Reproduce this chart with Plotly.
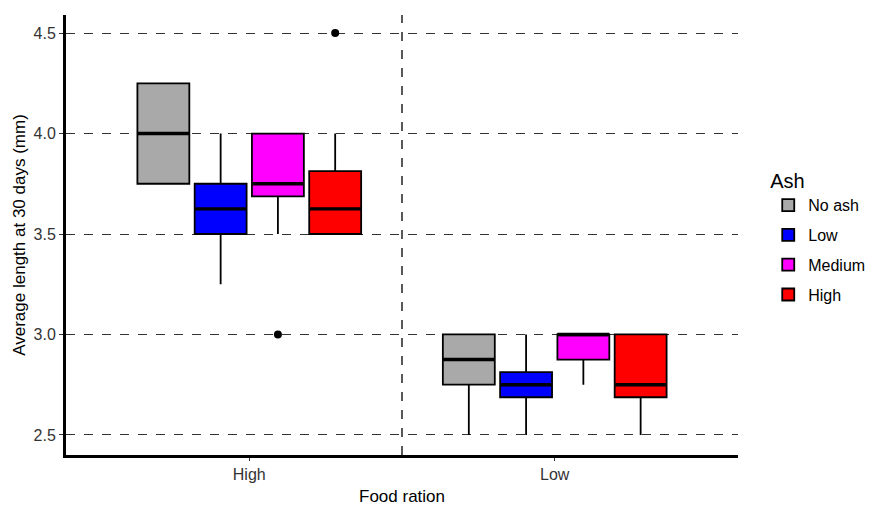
import plotly.graph_objects as go

rations = ["High", "Low"]
ash_levels = ["No ash", "Low", "Medium", "High"]
colors = ["#A9A9A9", "#0000FF", "#FF00FF", "#FF0000"]

# stats per ash level, ordered by ration [High, Low]
q1 = {"No ash": [3.75, 2.75], "Low": [3.5, 2.6875], "Medium": [3.6875, 2.875], "High": [3.5, 2.6875]}
med = {"No ash": [4.0, 2.875], "Low": [3.625, 2.75], "Medium": [3.75, 3.0], "High": [3.625, 2.75]}
q3 = {"No ash": [4.25, 3.0], "Low": [3.75, 2.8125], "Medium": [4.0, 3.0], "High": [3.8125, 3.0]}
lo = {"No ash": [3.75, 2.5], "Low": [3.25, 2.5], "Medium": [3.5, 2.75], "High": [3.5, 2.5]}
hi = {"No ash": [4.25, 3.0], "Low": [4.0, 3.0], "Medium": [4.0, 3.0], "High": [4.0, 3.0]}
outliers = {"Medium": (["High"], [3.0]), "High": (["High"], [4.5])}

y_ticks = [2.5, 3.0, 3.5, 4.0, 4.5]

dodge = 0.1875
bw = 0.17
n = len(ash_levels)

fig = go.Figure()
for i, a in enumerate(ash_levels):
    off = (i - (n - 1) / 2) * dodge
    xs = [r_i + 1 + off for r_i in range(len(rations))]
    fig.add_trace(go.Box(
        x=xs, q1=q1[a], median=med[a], q3=q3[a], lowerfence=lo[a], upperfence=hi[a],
        name=a, fillcolor=colors[i], line=dict(color="black", width=1.8),
        width=bw, whiskerwidth=0, boxpoints=False, hoverinfo="skip",
        legendgroup=a, showlegend=True, opacity=1,
    ))
    mx, my = [], []
    for j, x in enumerate(xs):
        mx += [x - bw / 2, x + bw / 2, None]
        my += [med[a][j], med[a][j], None]
    fig.add_trace(go.Scatter(x=mx, y=my, mode="lines", line=dict(color="black", width=3.4),
                             showlegend=False, hoverinfo="skip", legendgroup=a))
    if a in outliers:
        cats, vals = outliers[a]
        ox = [rations.index(c) + 1 + off for c in cats]
        fig.add_trace(go.Scatter(x=ox, y=vals, mode="markers", marker=dict(color="black", size=8),
                                 showlegend=False, hoverinfo="skip", legendgroup=a))

fig.add_vline(x=1.5, line=dict(color="black", width=1.3, dash="dash"))

fig.update_layout(
    width=871, height=506,
    margin=dict(l=66, r=133, t=15, b=51, autoexpand=False),
    plot_bgcolor="white", paper_bgcolor="white",
    font=dict(family="Liberation Sans, Arial, sans-serif", color="black", size=16),
    legend=dict(title=dict(text="Ash", font=dict(size=20)), font=dict(size=16),
                x=1.045, xanchor="left", y=0.495, yanchor="middle", tracegroupgap=6,
                bgcolor="rgba(0,0,0,0)"),
    showlegend=True,
)
fig.update_xaxes(
    range=[0.4, 2.6], tickvals=[1, 2], ticktext=rations,
    showline=True, linecolor="black", linewidth=3, showgrid=False, zeroline=False,
    ticks="outside", ticklen=3, tickcolor="#333", tickfont=dict(size=16, color="#333"),
    title=dict(text="Food ration", font=dict(size=17), standoff=8),
)
fig.update_yaxes(
    range=[2.40, 4.59], tickvals=y_ticks, ticktext=[f"{v:.1f}" for v in y_ticks],
    showline=True, linecolor="black", linewidth=3, zeroline=False,
    showgrid=True, gridcolor="#333", griddash="dash", gridwidth=1,
    ticks="outside", ticklen=4, tickcolor="#333", tickfont=dict(size=16, color="#333"),
    title=dict(text="Average length at 30 days (mm)", font=dict(size=17), standoff=4),
)
fig.write_html("out.html")
